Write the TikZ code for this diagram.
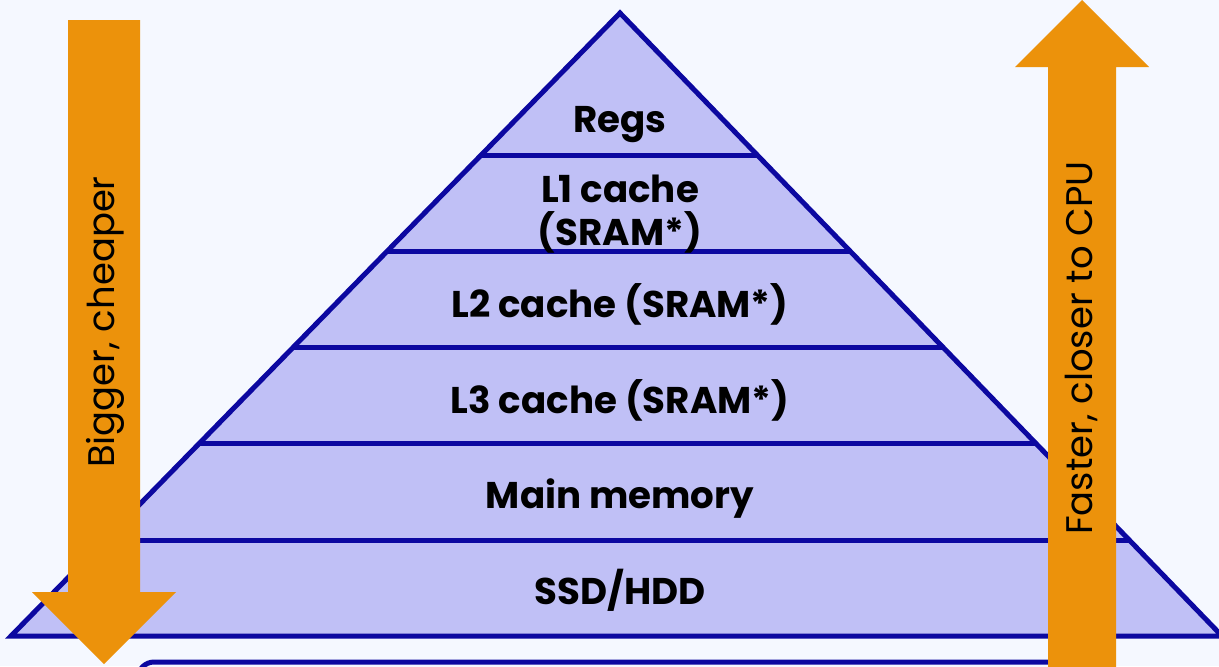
\documentclass[tikz,border=0pt]{standalone}
\usepackage{fontspec}
\setmainfont{Poppins}
\usetikzlibrary{calc}
\definecolor{bgpale}{RGB}{245,248,255}
\definecolor{layerfill}{RGB}{192,192,246}
\definecolor{layerline}{RGB}{12,8,160}
\definecolor{arroworange}{RGB}{236,146,11}

\begin{document}
\begin{tikzpicture}[x=0.5pt,y=-0.5pt,
    layer/.style={font=\fontsize{18.6}{21.5}\selectfont\bfseries,align=center,anchor=base},
    side label/.style={font=\fontsize{18.5}{22}\selectfont,rotate=90},
    edge line/.style={draw=layerline,line width=2.5pt},
    big arrow/.style={fill=arroworange}]

\fill[bgpale] (0,0) rectangle (1219,666);
\useasboundingbox (0,0) rectangle (1219,666);

% box below, cut off by the page
\draw[edge line,fill=bgpale,rounded corners=8pt] (138,662) rectangle (1108,760);

% pyramid
\coordinate (top) at (620,13);
\coordinate (baseL) at (11,636);
\coordinate (baseR) at (1222,636);
\draw[edge line,fill=layerfill] (top) -- (baseR) -- (baseL) -- cycle;
\foreach \y in {155,251,347,443,540}{
  \draw[edge line] ($(top)!{(\y-13)/623}!(baseL)$) -- ($(top)!{(\y-13)/623}!(baseR)$);
}

\node[layer] (regs) at (620,132) {Regs};
\node[layer] (l1) at (620,245) {L1 cache\\(SRAM*)};
\node[layer] (l2) at (620,317) {L2 cache (SRAM*)};
\node[layer] (l3) at (620,413) {L3 cache (SRAM*)};
\node[layer] (mainmem) at (620,508) {Main memory};
\node[layer] (disk) at (620,604) {SSD/HDD};

% side arrows
\fill[big arrow] (68,20) -- (140,20) -- (140,592) -- (176,592) -- (104,664)
  -- (32,592) -- (68,592) -- cycle;
\fill[big arrow] (1048,690) -- (1048,67) -- (1015,67) -- (1082,0) -- (1149,67)
  -- (1116,67) -- (1116,690) -- cycle;

\node[side label] (bigger) at (105,322) {Bigger, cheaper};
\node[side label] (faster) at (1081,348) {Faster, closer to CPU};

\end{tikzpicture}
\end{document}
